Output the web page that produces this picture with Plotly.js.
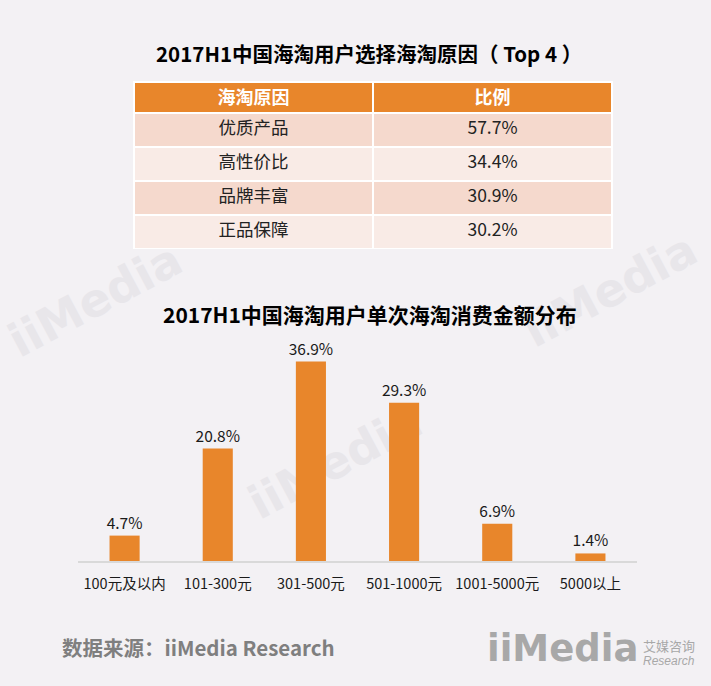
<!DOCTYPE html>
<html>
<head>
<meta charset="utf-8">
<script src="https://cdn.plot.ly/plotly-3.0.1.min.js"></script>
<style>
html,body{margin:0;padding:0;background:#f3f1f4;}
#wrap{position:relative;width:711px;height:686px;overflow:hidden;}
#chart{position:absolute;left:0;top:0;width:711px;height:686px;}
.wm{position:absolute;font-family:"DejaVu Sans",sans-serif;font-weight:bold;color:#e8e6ea;font-size:46px;transform:translate(-50%,-50%) rotate(-28deg);white-space:nowrap;}
</style>
</head>
<body>
<div id="wrap">
  <div class="wm" style="left:95px;top:300px;">iiMedia</div>
  <div class="wm" style="left:610px;top:290px;">iiMedia</div>
  <div class="wm" style="left:335px;top:462px;">iiMedia</div>
  <div id="chart"></div>
</div>
<script>
// ---- data ----
var reasonHeader = ["海淘原因", "比例"];
var reasons = ["优质产品", "高性价比", "品牌丰富", "正品保障"];
var reasonShares = ["57.7%", "34.4%", "30.9%", "30.2%"];
var spendCategories = ["100元及以内", "101-300元", "301-500元", "501-1000元", "1001-5000元", "5000以上"];
var spendShares = [4.7, 20.8, 36.9, 29.3, 6.9, 1.4];

var W = 711, H = 686;
function px(x){ return x / W; }
function py(y){ return 1 - y / H; }
var FONT = '"Noto Sans CJK SC", "Noto Sans", sans-serif';
var ORANGE = '#e8862b';

var rowFills = reasons.map(function(_, i){ return i % 2 === 0 ? '#f5d9cd' : '#f9ebe6'; });

var tableTrace = {
  type: 'table',
  domain: {x: [px(134), px(613)], y: [py(249), py(82)]},
  columnwidth: [1, 1],
  header: {
    values: reasonHeader,
    align: 'center',
    height: 31,
    fill: {color: ORANGE},
    line: {color: '#ffffff', width: 1.5},
    font: {family: FONT, size: 18, color: '#ffffff', weight: 'bold'}
  },
  cells: {
    values: [reasons, reasonShares],
    align: 'center',
    height: 34,
    fill: {color: [rowFills, rowFills]},
    line: {color: '#ffffff', width: 1.5},
    font: {family: FONT, size: 17.5, color: '#222222'}
  }
};

var barTrace = {
  type: 'bar',
  x: spendCategories,
  y: spendShares,
  marker: {color: ORANGE},
  text: spendShares.map(function(v){ return v.toFixed(1) + '%'; }),
  textposition: 'outside',
  constraintext: 'none',
  cliponaxis: false,
  textfont: {family: FONT, size: 15.5, color: '#1a1a1a'},
  hoverinfo: 'none',
  xaxis: 'x',
  yaxis: 'y'
};

var layout = {
  width: W, height: H,
  margin: {l: 0, r: 0, t: 0, b: 0},
  paper_bgcolor: 'rgba(0,0,0,0)',
  plot_bgcolor: 'rgba(0,0,0,0)',
  showlegend: false,
  bargap: 0.677,
  xaxis: {
    domain: [px(78), px(637)],
    showline: true, linecolor: '#d9d9d9', linewidth: 1.5,
    showgrid: false, zeroline: false,
    ticks: 'outside', ticklen: 9, tickcolor: 'rgba(0,0,0,0)',
    tickfont: {family: FONT, size: 14.5, color: '#1a1a1a'},
    fixedrange: true
  },
  yaxis: {
    domain: [py(561), py(340)],
    range: [0, 40.9],
    visible: false, showgrid: false, zeroline: false,
    fixedrange: true
  },
  annotations: [
    {xref:'paper', yref:'paper', x:px(369), y:py(53), text:'2017H1中国海淘用户选择海淘原因（ Top 4 ）',
      showarrow:false, xanchor:'center', yanchor:'middle',
      font:{family:FONT, size:20.5, color:'#000000', weight:'bold'}},
    {xref:'paper', yref:'paper', x:px(370), y:py(314), text:'2017H1中国海淘用户单次海淘消费金额分布',
      showarrow:false, xanchor:'center', yanchor:'middle',
      font:{family:FONT, size:21, color:'#000000', weight:'bold'}},
    {xref:'paper', yref:'paper', x:px(60), y:py(647), text:'数据来源：iiMedia Research',
      showarrow:false, xanchor:'left', yanchor:'middle',
      font:{family:FONT, size:20.5, color:'#7f7f7f', weight:'bold'}},
    {xref:'paper', yref:'paper', x:px(485), y:py(648), text:'iiMedia',
      showarrow:false, xanchor:'left', yanchor:'middle',
      font:{family:'"DejaVu Sans", sans-serif', size:37, color:'#a8a8a8', weight:'bold'}},
    {xref:'paper', yref:'paper', x:px(641), y:py(645), text:'艾媒咨询',
      showarrow:false, xanchor:'left', yanchor:'middle',
      font:{family:FONT, size:13, color:'#a8a8a8'}},
    {xref:'paper', yref:'paper', x:px(641), y:py(661), text:'<i>Research</i>',
      showarrow:false, xanchor:'left', yanchor:'middle',
      font:{family:'"Liberation Sans", sans-serif', size:12, color:'#a8a8a8'}}
  ]
};

Plotly.newPlot('chart', [tableTrace, barTrace], layout, {displayModeBar: false, staticPlot: true});
</script>
</body>
</html>
